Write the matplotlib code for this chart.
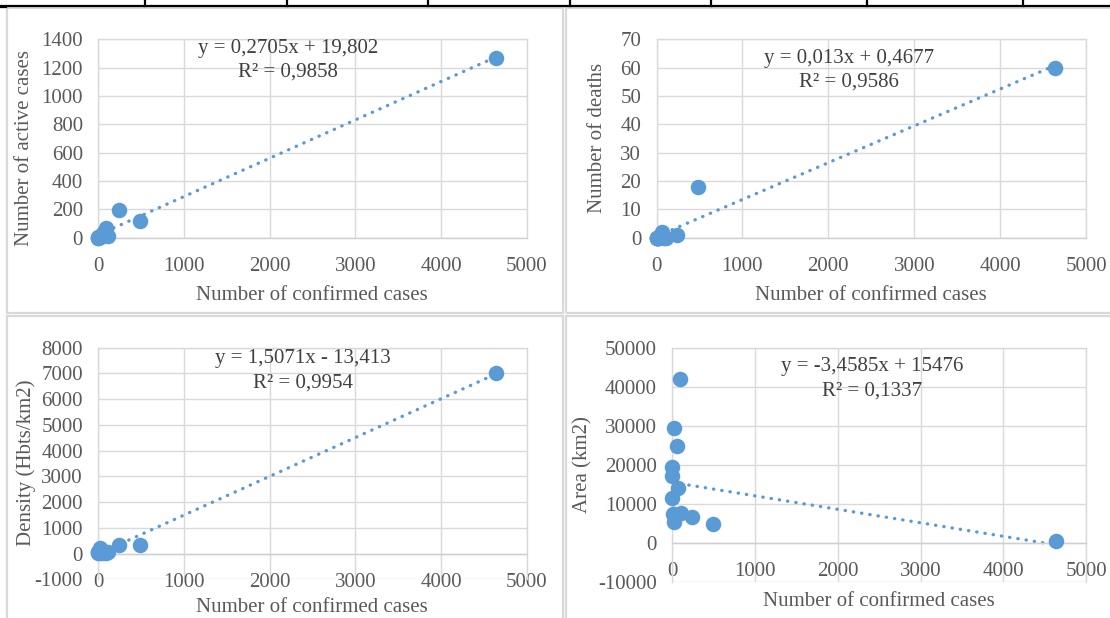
import matplotlib
matplotlib.use("Agg")
import matplotlib.pyplot as plt
from matplotlib.lines import Line2D
from matplotlib.patches import Rectangle
import numpy as np

W, H = 1110, 618

# one value per region; x axis shared by the four charts
confirmed = [4637, 487, 242, 109, 89, 69, 56, 25, 16, 16, 8, 3, 2, 2]
active = [1266, 120, 195, 10, 66, 20, 35, 5, 8, 6, 3, 2, 1, 0]
deaths = [60, 18, 1, 0, 0, 2, 1, 0, 0, 0, 0, 0, 0, 0]
density = [7030, 350, 330, 80, 17, 55, 38, 70, 20, 200, 115, 60, 50, 9]
area = [520, 4800, 6700, 7700, 41950, 13900, 24800, 7250, 29300, 5400, 7300,
        11400, 19300, 17000]

# linear trendlines as printed on the charts
slopes = [0.2705, 0.013, 1.5071, -3.4585]
intercepts = [19.802, 0.4677, -13.413, 15476]
equations = ["y = 0,2705x + 19,802", "y = 0,013x + 0,4677",
             "y = 1,5071x - 13,413", "y = -3,4585x + 15476"]
r2_labels = ["R² = 0,9858", "R² = 0,9586", "R² = 0,9954", "R² = 0,1337"]
ylabels = ["Number of active cases", "Number of deaths",
           "Density (Hbts/km2)", "Area (km2)"]
xlabel = "Number of confirmed cases"
series = [active, deaths, density, area]
yranges = [(0, 1400, 200), (0, 70, 10), (-1000, 8000, 1000), (-10000, 50000, 10000)]

BLUE = "#5B9BD5"
GRID = "#d9d9d9"
TICK = "#595959"
FONT = "Liberation Serif"
FS = 15

# pixel layout: plot box (x0, x1, top, bottom), x label pos, y label pos, equation pos
layout = [
    dict(box=(98.2, 526.8, 39.3, 237.7), xl=(312, 296), yl=(25, 148), eq=(288, 48)),
    dict(box=(656.5, 1086.1, 39.3, 237.7), xl=(871, 296), yl=(598, 138), eq=(849, 58)),
    dict(box=(98.2, 526.8, 347.7, 579.3), xl=(312, 607), yl=(26, 463), eq=(303, 359)),
    dict(box=(672.2, 1086.1, 347.7, 581.7), xl=(879, 602), yl=(583, 465), eq=(872, 367)),
]


def fx(px):
    return px / W


def fy(py):
    return 1 - py / H


def main():
    plt.rcParams["font.family"] = [FONT, "DejaVu Serif"]
    plt.rcParams["axes.unicode_minus"] = False
    fig = plt.figure(figsize=(W / 100, H / 100), dpi=100)
    fig.patch.set_facecolor("white")

    # table lines from the document above the charts
    fig.add_artist(Line2D([0, 1], [fy(5.5), fy(5.5)], color="black", lw=1.6))
    for xv in [145, 287, 428, 570, 711, 867, 1023]:
        fig.add_artist(Line2D([fx(xv), fx(xv)], [fy(0), fy(6)], color="black", lw=1.6))
    fig.add_artist(Line2D([0, fx(6)], [fy(7), fy(7)], color="black", lw=1.6))

    # chart borders
    for (x0, x1, y0, y1) in [(7, 563, 8, 313), (566, 1116, 8, 313),
                             (7, 563, 316, 625), (566, 1116, 316, 625)]:
        fig.add_artist(Rectangle((fx(x0), fy(y1)), fx(x1 - x0), (y1 - y0) / H,
                                 fill=False, edgecolor=GRID, lw=1.6))

    xs = np.array([min(confirmed), max(confirmed)], dtype=float)
    for i, lay in enumerate(layout):
        x0, x1, top, bot = lay["box"]
        ax = fig.add_axes([fx(x0), fy(bot), (x1 - x0) / W, (bot - top) / H])
        ymin, ymax, ystep = yranges[i]
        ax.set_xlim(0, 5000)
        ax.set_ylim(ymin, ymax)
        ax.set_xticks(np.arange(0, 5001, 1000))
        ax.set_yticks(np.arange(ymin, ymax + 1, ystep))
        ax.grid(color=GRID, lw=1.0)
        ax.set_axisbelow(True)
        for s in ax.spines.values():
            s.set_color(GRID)
            s.set_linewidth(1.0)
        ax.spines["bottom"].set_position(("data", 0))
        ax.spines["bottom"].set_color("#cfcfcf")
        ax.tick_params(length=0, labelsize=FS, labelcolor=TICK)
        ax.tick_params(axis="y", pad=11)
        ax.tick_params(axis="x", pad=14)

        ax.plot(xs, slopes[i] * xs + intercepts[i], color=BLUE, lw=2.4,
                linestyle=(0, (0.1, 2.4)), dash_capstyle="round", zorder=2,
                clip_on=False)
        ax.scatter(confirmed, series[i], s=125, color=BLUE, linewidths=0,
                   zorder=3, clip_on=False)

        fig.text(fx(lay["xl"][0]), fy(lay["xl"][1]), xlabel, ha="center",
                 va="center", fontsize=FS, color=TICK)
        fig.text(fx(lay["yl"][0]), fy(lay["yl"][1]), ylabels[i], ha="center",
                 va="center", rotation=90, fontsize=FS, color=TICK)
        ex, ey = lay["eq"]
        fig.text(fx(ex), fy(ey), equations[i], ha="center", va="center",
                 fontsize=FS, color="#404040")
        fig.text(fx(ex), fy(ey + 24), r2_labels[i], ha="center", va="center",
                 fontsize=FS, color="#404040")

    fig.savefig("out.png", dpi=100)


if __name__ == "__main__":
    main()
